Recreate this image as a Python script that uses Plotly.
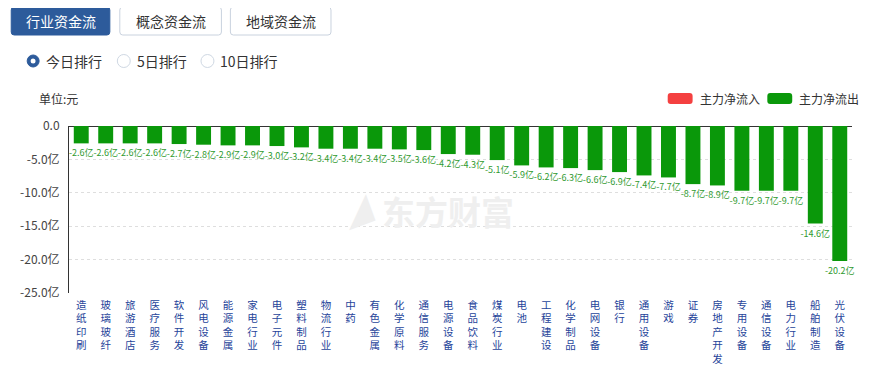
import plotly.graph_objects as go

categories = ["造纸印刷", "玻璃玻纤", "旅游酒店", "医疗服务", "软件开发", "风电设备", "能源金属",
              "家电行业", "电子元件", "塑料制品", "物流行业", "中药", "有色金属", "化学原料",
              "通信服务", "电源设备", "食品饮料", "煤炭行业", "电池", "工程建设", "化学制品",
              "电网设备", "银行", "通用设备", "游戏", "证券", "房地产开发", "专用设备",
              "通信设备", "电力行业", "船舶制造", "光伏设备"]
outflow = [-2.6, -2.6, -2.6, -2.6, -2.7, -2.8, -2.9, -2.9, -3.0, -3.2, -3.4, -3.4, -3.4, -3.5,
           -3.6, -4.2, -4.3, -5.1, -5.9, -6.2, -6.3, -6.6, -6.9, -7.4, -7.7, -8.7, -8.9, -9.7,
           -9.7, -9.7, -14.6, -20.2]
y_ticks = [0, -5, -10, -15, -20, -25]
y_tick_labels = ["0.0", "-5.0亿", "-10.0亿", "-15.0亿", "-20.0亿", "-25.0亿"]
tabs = ["行业资金流", "概念资金流", "地域资金流"]
radios = ["今日排行", "5日排行", "10日排行"]
legend_names = ["主力净流入", "主力净流出"]

GREEN = "#0a980a"
RED = "#f44040"
BLUE = "#2d5b9b"
FONT = "Noto Sans CJK SC"

# page body has an 8px margin; figure is sized so it fits the window
OFF = 8
W, H = 869 - OFF, 368 - OFF
PL, PR, PT, PB = 66, 852, 126, 293  # plot area in page pixels

fig = go.Figure()
fig.add_trace(go.Bar(
    x=categories, y=outflow, marker=dict(color=GREEN, line=dict(width=0)),
    text=[f"{v:.1f}亿" for v in outflow], textposition="outside",
    textfont=dict(size=9, color="#2f9a2f", family=FONT),
    constraintext="none", cliponaxis=False, name=legend_names[1], hoverinfo="x+y",
))


def fx(x):
    return (x - PL) / (PR - PL)


def fy(y):
    return (PB - y) / (PB - PT)


def rrect(x0, y0, x1, y1, r):
    pts = [
        f"M{fx(x0 + r)},{fy(y0)}", f"L{fx(x1 - r)},{fy(y0)}", f"Q{fx(x1)},{fy(y0)} {fx(x1)},{fy(y0 + r)}",
        f"L{fx(x1)},{fy(y1 - r)}", f"Q{fx(x1)},{fy(y1)} {fx(x1 - r)},{fy(y1)}",
        f"L{fx(x0 + r)},{fy(y1)}", f"Q{fx(x0)},{fy(y1)} {fx(x0)},{fy(y1 - r)}",
        f"L{fx(x0)},{fy(y0 + r)}", f"Q{fx(x0)},{fy(y0)} {fx(x0 + r)},{fy(y0)}", "Z",
    ]
    return " ".join(pts)


shapes = []
annotations = []

# tabs
tab_boxes = [(8, 107), (117, 219), (228, 329)]
for i, (name, (x0, x1)) in enumerate(zip(tabs, tab_boxes)):
    active = i == 0
    shapes.append(dict(type="path", xref="paper", yref="paper", path=rrect(x0, 7, x1, 35, 3),
                       fillcolor=BLUE if active else "white",
                       line=dict(color=BLUE if active else "#c9d2de", width=1), layer="above"))
    annotations.append(dict(xref="paper", yref="paper", x=fx((x0 + x1) / 2), y=fy(21),
                            text=name, showarrow=False, xanchor="center", yanchor="middle",
                            font=dict(size=14, color="white" if active else "#333333", family=FONT)))

# radios
radio_pos = [(30, 41), (121, 132), (205, 216)]
for i, (name, (cx, tx)) in enumerate(zip(radios, radio_pos)):
    cy = 61
    if i == 0:
        shapes.append(dict(type="circle", xref="paper", yref="paper",
                           x0=fx(cx - 6), x1=fx(cx + 6), y0=fy(cy + 6), y1=fy(cy - 6),
                           fillcolor=BLUE, line=dict(color=BLUE, width=1)))
        shapes.append(dict(type="circle", xref="paper", yref="paper",
                           x0=fx(cx - 2.5), x1=fx(cx + 2.5), y0=fy(cy + 2.5), y1=fy(cy - 2.5),
                           fillcolor="white", line=dict(color="white", width=0)))
    else:
        shapes.append(dict(type="circle", xref="paper", yref="paper",
                           x0=fx(cx - 6.5), x1=fx(cx + 6.5), y0=fy(cy + 6.5), y1=fy(cy - 6.5),
                           fillcolor="white", line=dict(color="#cfd8e3", width=1)))
    annotations.append(dict(xref="paper", yref="paper", x=fx(tx), y=fy(cy),
                            text=name, showarrow=False, xanchor="left", yanchor="middle",
                            font=dict(size=14, color="#333333", family=FONT)))

# unit
annotations.append(dict(xref="paper", yref="paper", x=fx(34), y=fy(98), text="单位:元",
                        showarrow=False, xanchor="left", yanchor="middle",
                        font=dict(size=12, color="#333333", family=FONT)))

# legend
leg = [(667, 697, RED), (767, 797, GREEN)]
for name, (x0, tx, col) in zip(legend_names, leg):
    shapes.append(dict(type="path", xref="paper", yref="paper", path=rrect(x0, 93, x0 + 25, 104, 3),
                       fillcolor=col, line=dict(color=col, width=0)))
    annotations.append(dict(xref="paper", yref="paper", x=fx(tx), y=fy(98.5), text=name,
                            showarrow=False, xanchor="left", yanchor="middle",
                            font=dict(size=12, color="#333333", family=FONT)))

# watermark
annotations.append(dict(xref="paper", yref="paper", x=fx(446), y=fy(211), text="<b>东方财富</b>",
                        showarrow=False, xanchor="center", yanchor="middle",
                        font=dict(size=33, color="#efefef", family=FONT)))
annotations.append(dict(xref="paper", yref="paper", x=fx(355), y=fy(211), text="<b>◢</b>",
                        showarrow=False, xanchor="center", yanchor="middle", textangle=-20,
                        font=dict(size=28, color="#efefef", family=FONT)))

# vertical (stacked) category tick labels
x_tick_labels = ["<br>".join(cat) for cat in categories]

fig.update_layout(
    width=W, height=H,
    margin=dict(l=PL - OFF, r=W - (PR - OFF), t=PT - OFF, b=H - (PB - OFF)),
    paper_bgcolor="white", plot_bgcolor="white",
    showlegend=False, bargap=0.39,
    font=dict(family=FONT, color="#333333"),
    shapes=shapes, annotations=annotations,
    xaxis=dict(showticklabels=True, tickvals=categories, ticktext=x_tick_labels, tickangle=0,
               tickfont=dict(size=10.5, color="#26449a", family=FONT), ticklabelstandoff=4,
               showgrid=False, zeroline=False, showline=False, automargin=False,
               ticks="", range=[-0.5, len(categories) - 0.5]),
    yaxis=dict(range=[-25, 0], tickvals=y_ticks, ticktext=y_tick_labels,
               showgrid=True, gridcolor="#dedede", griddash="dot", gridwidth=1,
               zeroline=True, zerolinecolor="#333333", zerolinewidth=1,
               showline=True, linecolor="#333333", linewidth=1, ticks="",
               tickfont=dict(size=12, color="#444444", family=FONT), ticklabelstandoff=6),
)

fig.write_html("out.html")
